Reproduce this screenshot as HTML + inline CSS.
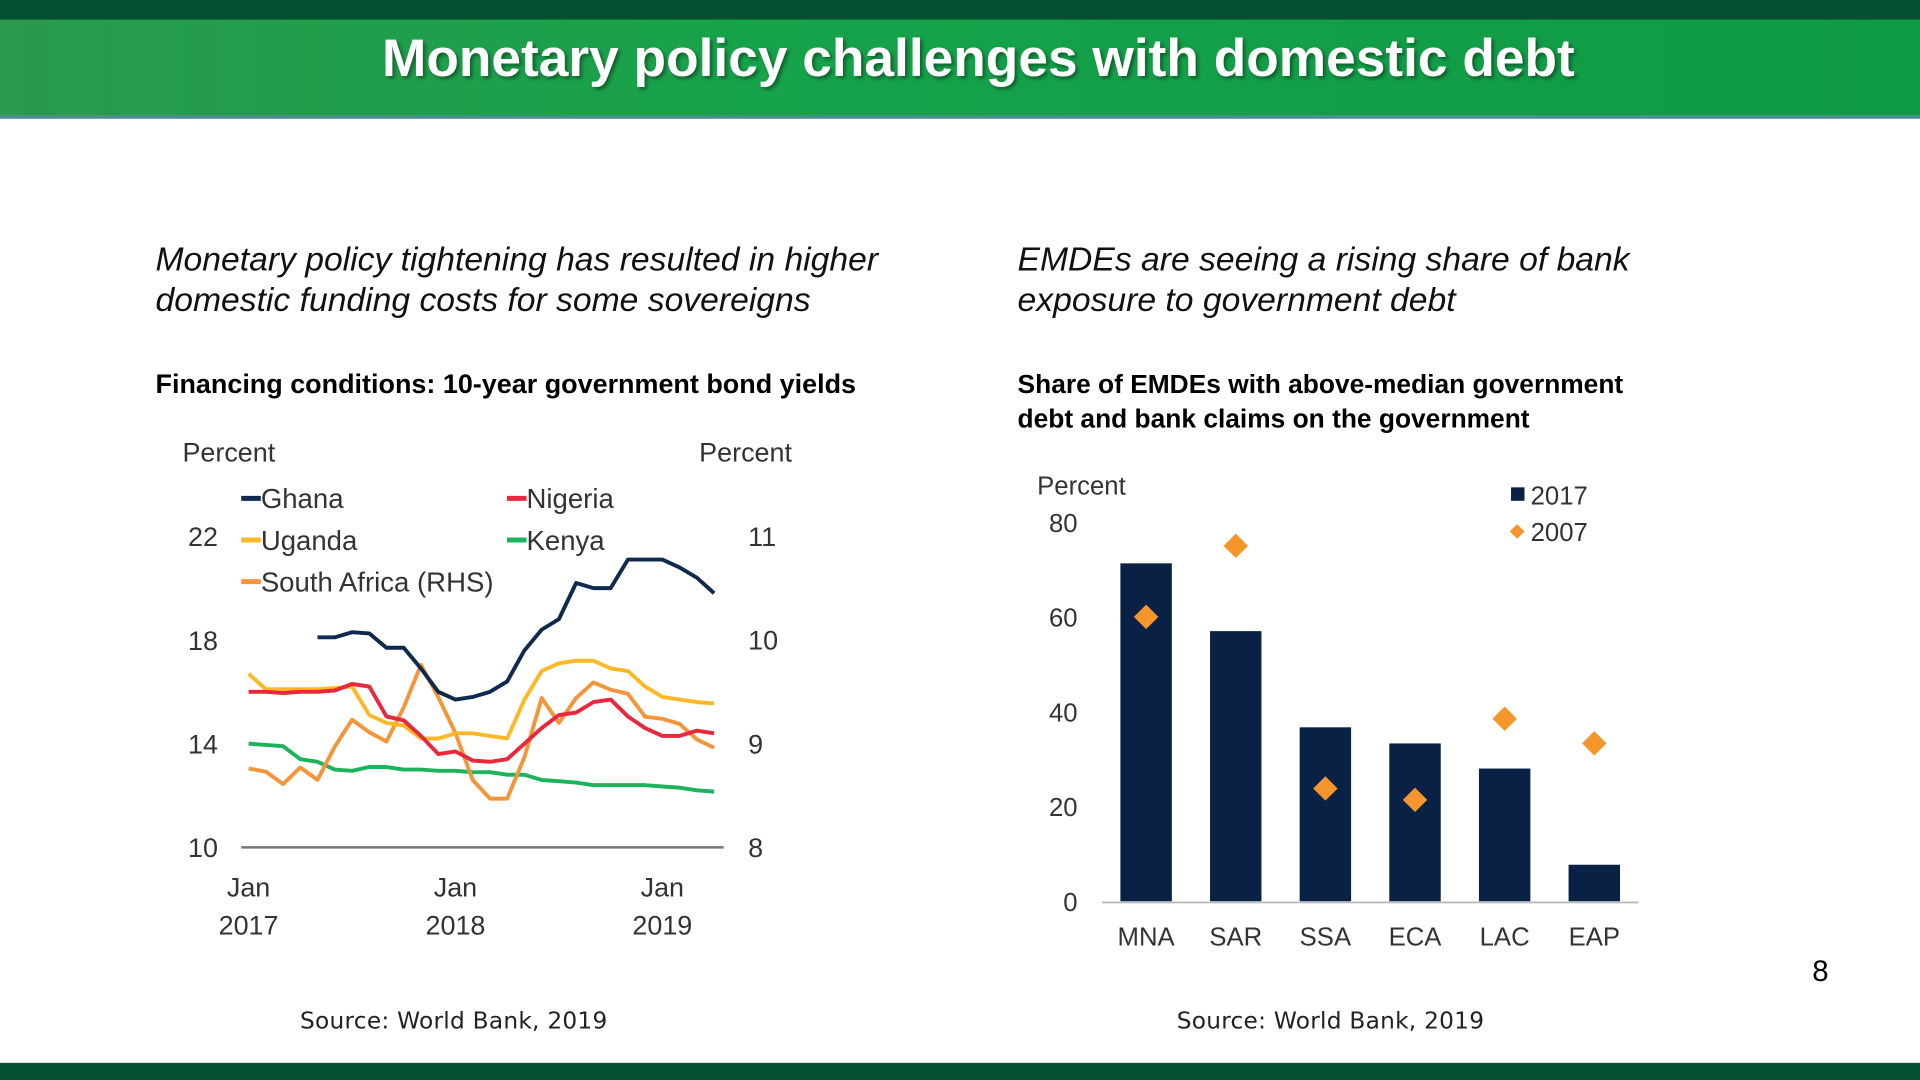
<!DOCTYPE html>
<html><head><meta charset="utf-8">
<style>
html,body{margin:0;padding:0;width:1920px;height:1080px;overflow:hidden;background:#fff;}
#stage{position:absolute;left:0;top:0;width:1568px;height:882px;transform:scale(1.22449);transform-origin:0 0;font-family:"Liberation Sans",Arial,sans-serif;}
.abs{position:absolute;}
</style></head><body>
<div id="stage">
  <div class="abs" style="left:0;top:0;width:1568px;height:96px;background:linear-gradient(90deg,#2a9a4c 0%,#16a34a 40%,#0f9a45 100%);"></div>
  <div class="abs" style="left:0;top:0;width:1568px;height:16px;background:#02502f;"></div>
  <div class="abs" style="left:0;top:94px;width:1568px;height:3px;background:#4a8f8a;"></div>
  <div class="abs" style="left:0;top:24px;width:1598px;text-align:center;color:#fff;font-weight:bold;font-size:43.5px;text-shadow:2px 2px 3px rgba(0,0,0,0.4);">Monetary policy challenges with domestic debt</div>

  <div class="abs" style="left:127px;top:195px;font-style:italic;font-size:27.5px;line-height:33px;color:#111;">Monetary policy tightening has resulted in higher<br>domestic funding costs for some sovereigns</div>
  <div class="abs" style="left:831px;top:195px;font-style:italic;font-size:27.5px;line-height:33px;color:#111;">EMDEs are seeing a rising share of bank<br>exposure to government debt</div>
  <div class="abs" style="left:127px;top:301px;font-weight:bold;font-size:22px;color:#000;">Financing conditions: 10-year government bond yields</div>
  <div class="abs" style="left:831px;top:300px;font-weight:bold;font-size:21.5px;line-height:28px;color:#000;">Share of EMDEs with above-median government<br>debt and bank claims on the government</div>

  <svg class="abs" id="left" style="left:0;top:0" width="800" height="882"></svg>
  <svg class="abs" id="right" style="left:0;top:0" width="1568" height="882"></svg>

  <div class="abs" style="left:1480px;top:780px;font-size:24px;">8</div>
  <div class="abs" style="left:245px;top:823px;font-size:19px;color:#222;font-family:'DejaVu Sans',sans-serif;letter-spacing:0.2px;">Source: World Bank, 2019</div>
  <div class="abs" style="left:961px;top:823px;font-size:19px;color:#222;font-family:'DejaVu Sans',sans-serif;letter-spacing:0.2px;">Source: World Bank, 2019</div>
  <div class="abs" style="left:0;top:868px;width:1568px;height:14px;background:#02502f;"></div>
</div>
<script>
// Left chart data (months from Jan 2017)
const ghanaMonths = [4,5,6,7,8,9,10,11,12,13,14,15,16,17,18,19,20,21,22,23,24,25,26,27];
const ghana = [18.1,18.1,18.3,18.25,17.7,17.7,16.9,16.0,15.7,15.8,16.0,16.4,17.6,18.4,18.8,20.2,20.0,20.0,21.1,21.1,21.1,20.8,20.4,19.8];
const uganda = [16.7,16.1,16.1,16.1,16.1,16.15,16.2,15.1,14.8,14.7,14.2,14.2,14.4,14.4,14.3,14.2,15.7,16.8,17.1,17.2,17.2,16.9,16.8,16.2,15.8,15.7,15.6,15.55];
const nigeria = [16.0,16.0,15.95,16.0,16.0,16.05,16.3,16.2,15.05,14.9,14.3,13.6,13.7,13.35,13.3,13.4,14.0,14.6,15.1,15.2,15.6,15.7,15.05,14.6,14.3,14.3,14.5,14.4];
const kenya = [14.0,13.95,13.9,13.4,13.3,13.0,12.95,13.1,13.1,13.0,13.0,12.95,12.95,12.9,12.9,12.8,12.8,12.6,12.55,12.5,12.4,12.4,12.4,12.4,12.35,12.3,12.2,12.15];
const southAfrica = [8.76,8.73,8.61,8.77,8.65,8.97,9.23,9.11,9.02,9.35,9.76,9.45,9.1,8.65,8.47,8.47,8.87,9.44,9.2,9.44,9.59,9.52,9.48,9.26,9.24,9.19,9.04,8.96];
const leftTicks = [10,14,18,22];
const rightTicks = [8,9,10,11];
const xTickMonths = [0,12,24];
const xTickLabels = [["Jan","2017"],["Jan","2018"],["Jan","2019"]];

// Right chart data
const regions = ["MNA","SAR","SSA","ECA","LAC","EAP"];
const share2017 = [71.3,57,36.7,33.3,28,7.7];
const share2007 = [60,75,23.8,21.4,38.5,33.3];
const barTicks = [0,20,40,60,80];

const NS="http://www.w3.org/2000/svg";
function mk(svg,tag,attrs,text){const e=document.createElementNS(NS,tag);for(const k in attrs)e.setAttribute(k,attrs[k]);if(text!==undefined)e.textContent=text;svg.appendChild(e);return e;}

// ---- left chart
const L=document.getElementById('left');
const xm=m=>203+m*14.08;
const yl=v=>692-(v-10)*21.17;
const yr=v=>692-(v-8)*84.7;
const FONT="Liberation Sans, Arial, sans-serif";
let t;
t=mk(L,'text',{x:149,y:377,'font-size':22,fill:'#333','font-family':FONT},'Percent');

t=mk(L,'text',{x:571,y:377,'font-size':22,fill:'#333','font-family':FONT},'Percent');

leftTicks.forEach(v=>{const e=mk(L,'text',{x:178,y:yl(v)+8,'font-size':22,fill:'#333','text-anchor':'end','font-family':FONT},String(v));

});
rightTicks.forEach(v=>{const e=mk(L,'text',{x:611,y:yr(v)+8,'font-size':22,fill:'#333','font-family':FONT},String(v));

});
xTickMonths.forEach((m,i)=>{const e=mk(L,'text',{x:xm(m),y:732,'font-size':22,fill:'#333','text-anchor':'middle','font-family':FONT},xTickLabels[i][0]);


const f=mk(L,'text',{x:xm(m),y:763,'font-size':22,fill:'#333','text-anchor':'middle','font-family':FONT},xTickLabels[i][1]);

});
const ax=mk(L,'line',{x1:197,x2:591,y1:692,y2:692,stroke:'#777','stroke-width':2});


function series(name,months,vals,yf,color){
  const pts=vals.map((v,i)=>xm(months?months[i]:i).toFixed(1)+','+yf(v).toFixed(1)).join(' ');
  const p=mk(L,'polyline',{points:pts,fill:'none',stroke:color,'stroke-width':3.2,'stroke-linejoin':'round'});
  
  
}
series('line-kenya',null,kenya,yl,'#1db35c');
series('line-south-africa',null,southAfrica,yr,'#f5953a');
series('line-uganda',null,uganda,yl,'#fdb827');
series('line-nigeria',null,nigeria,yl,'#e8283c');
series('line-ghana',ghanaMonths,ghana,yl,'#0e2a4f');
const legend=[["Ghana","#0e2a4f",197,407],["Nigeria","#e8283c",414,407],["Uganda","#fdb827",197,441],["Kenya","#1db35c",414,441],["South Africa (RHS)","#f5953a",197,475]];
legend.forEach(l=>{const s=mk(L,'line',{x1:l[2],x2:l[2]+16,y1:l[3],y2:l[3],stroke:l[1],'stroke-width':4});


const e=mk(L,'text',{x:l[2]+16,y:l[3]+8,'font-size':22.5,fill:'#333','font-family':FONT},l[0]);

});

// ---- right chart
const R=document.getElementById('right');
const bx=i=>936+i*73.2;
const yb=v=>736-v*3.87;
t=mk(R,'text',{x:847,y:404,'font-size':21,fill:'#333','font-family':FONT},'Percent');

barTicks.forEach(v=>{const e=mk(R,'text',{x:880,y:yb(v)+8,'font-size':21,fill:'#333','text-anchor':'end','font-family':FONT},String(v));

});
const bax=mk(R,'line',{x1:900,x2:1338,y1:737,y2:737,stroke:'#bbb','stroke-width':1.5});


regions.forEach((r,i)=>{
  const b=mk(R,'rect',{x:bx(i)-21,y:yb(share2017[i]),width:42,height:share2017[i]*3.87,fill:'#0a2146'});
  
  
  const cy=yb(share2007[i]);
  const d=mk(R,'polygon',{points:`${bx(i)},${cy-10} ${bx(i)+10},${cy} ${bx(i)},${cy+10} ${bx(i)-10},${cy}`,fill:'#f5952b'});
  
  
  const e=mk(R,'text',{x:bx(i),y:772,'font-size':21,fill:'#333','text-anchor':'middle','font-family':FONT},r);
  
  
});
const lg1=mk(R,'rect',{x:1234,y:398,width:11,height:11,fill:'#0a2146'});


t=mk(R,'text',{x:1250,y:412,'font-size':21,fill:'#333','font-family':FONT},'2017');

const lg2=mk(R,'polygon',{points:'1239,428 1245,434 1239,440 1233,434',fill:'#f5952b'});


t=mk(R,'text',{x:1250,y:442,'font-size':21,fill:'#333','font-family':FONT},'2007');

</script>
</body></html>
